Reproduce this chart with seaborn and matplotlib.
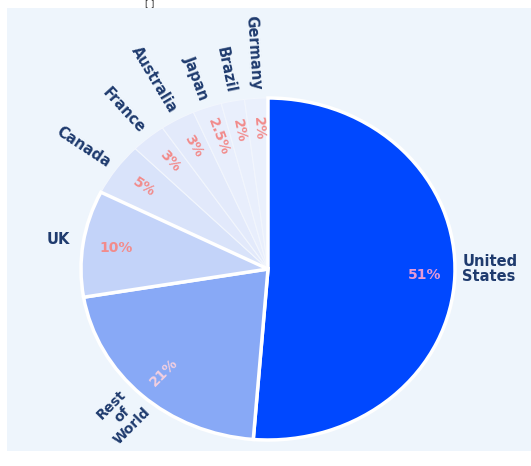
import numpy as np
import matplotlib
matplotlib.use("Agg")
import matplotlib.pyplot as plt
import seaborn as sns
from matplotlib.patches import Rectangle

countries = ["United\nStates", "Rest\nof\nWorld", "UK", "Canada", "France",
             "Australia", "Japan", "Brazil", "Germany"]
shares = [51, 21, 10, 5, 3, 3, 2.5, 2, 2]
pct_labels = ["51%", "21%", "10%", "5%", "3%", "3%", "2.5%", "2%", "2%"]

slice_colors = ["#0048FF", "#88A9F6", "#C3D3F9", "#D9E3FA", "#E2E9FB",
                "#E3EAFB", "#E8EEFC", "#E9EFFC", "#EAF0FC"]
pct_colors = ["#E79AD6", "#F2CFE0", "#F28B8B", "#F28B8B", "#F28B8B",
              "#F28B8B", "#F28B8B", "#F28B8B", "#F28B8B"]

sns.set_theme(style="white")
plt.rcParams["font.family"] = ["DejaVu Sans"]

W, H = 531, 466
fig = plt.figure(figsize=(W / 100, H / 100), dpi=100)
fig.patch.set_facecolor("white")
fig.patches.append(Rectangle((7 / W, (H - 451) / H), 1 - 7 / W, (451 - 8) / H,
                             transform=fig.transFigure, facecolor="#EEF5FC",
                             edgecolor="none", zorder=-10))
fig.text(150 / W, 1 - 4 / H, "[ ]", ha="center", va="center", fontsize=6, color="#222222")

cx, cy, rx, ry = 268, 269, 187, 171
ax = fig.add_axes([(cx - rx) / W, (H - cy - ry) / H, 2 * rx / W, 2 * ry / H])
ax.set_zorder(1)
ax.patch.set_alpha(0)

wedges, _ = ax.pie(shares, colors=slice_colors, startangle=90, counterclock=False,
                   radius=1, wedgeprops=dict(edgecolor="white", linewidth=2.5))
for i, w in enumerate(wedges):
    if i >= 3:
        w.set_edgecolor("#F2F6FD")
        w.set_linewidth(0.8)
        w.set_zorder(2)
    else:
        w.set_zorder(3)
ax.set_xlim(-1, 1)
ax.set_ylim(-1, 1)
ax.set_aspect("auto")
ax.axis("off")

navy = "#1F3B6E"
lab_fs = 10.5
for i, w in enumerate(wedges):
    t = np.deg2rad((w.theta1 + w.theta2) / 2)
    vis = np.rad2deg(np.arctan2(ry * np.sin(t), rx * np.cos(t)))
    pd_ = 0.84 if i == 0 else 0.82
    px, py = pd_ * np.cos(t), pd_ * np.sin(t)
    rot = 0 if i in (0, 2) else vis + 180
    ax.text(px, py, pct_labels[i], ha="center", va="center", rotation=rot,
            rotation_mode="anchor", fontsize=10, fontweight="bold", color=pct_colors[i],
            zorder=5)
    if i == 0:
        ax.text(1.04, 0.0, countries[i], ha="left", va="center", fontsize=lab_fs,
                fontweight="bold", color=navy, linespacing=1.0)
    elif i == 2:
        ax.text(-1.06, 0.17, countries[i], ha="right", va="center", fontsize=lab_fs,
                fontweight="bold", color=navy)
    elif i == 1:
        ld = 1.03
        ax.text(ld * np.cos(t), ld * np.sin(t), countries[i], ha="right", va="center",
                rotation=vis + 180, rotation_mode="anchor", fontsize=lab_fs - 0.5,
                fontweight="bold", color=navy, linespacing=1.1, multialignment="center")
    else:
        ld = 1.05
        ax.text(ld * np.cos(t), ld * np.sin(t), countries[i], ha="right", va="center",
                rotation=vis + 180, rotation_mode="anchor", fontsize=lab_fs,
                fontweight="bold", color=navy)

fig.savefig("out.png", dpi=100, facecolor=fig.get_facecolor())
